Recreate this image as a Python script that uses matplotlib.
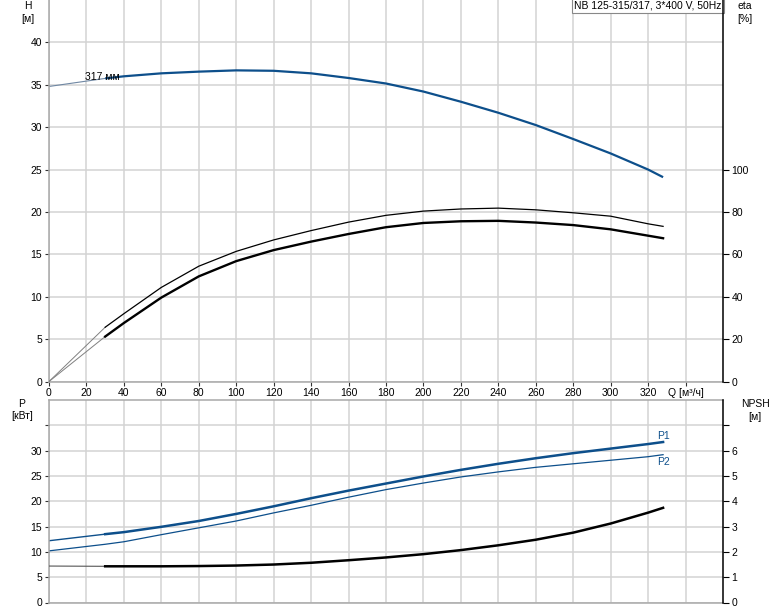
import matplotlib
matplotlib.use("Agg")
import matplotlib.pyplot as plt

plt.rcParams['font.family'] = ['Liberation Sans', 'DejaVu Sans']

# ---- data ----
Q = [0, 30, 40, 60, 80, 100, 120, 140, 160, 180, 200, 220, 240, 260, 280, 300, 320, 328]
H = [34.8, 35.75, 36.0, 36.35, 36.55, 36.7, 36.65, 36.35, 35.8, 35.15, 34.2, 33.0, 31.7, 30.25, 28.6, 26.9, 25.0, 24.1]
eta_pump = [0, 25.6, 32.0, 44.4, 54.4, 61.4, 66.8, 71.2, 75.2, 78.4, 80.4, 81.4, 81.8, 81.0, 79.6, 78.0, 74.4, 73.2]
eta_total = [0, 21.2, 27.6, 39.6, 49.6, 56.8, 62.0, 66.0, 69.6, 72.8, 74.8, 75.6, 75.8, 75.0, 73.8, 71.8, 68.8, 67.6]
P1 = [12.2, 13.5, 13.9, 14.95, 16.1, 17.5, 19.0, 20.6, 22.1, 23.5, 24.9, 26.2, 27.4, 28.5, 29.5, 30.4, 31.3, 31.7]
P2 = [10.2, 11.5, 12.0, 13.4, 14.75, 16.1, 17.7, 19.2, 20.8, 22.3, 23.6, 24.8, 25.8, 26.7, 27.4, 28.1, 28.8, 29.2]
NPSH = [1.44, 1.43, 1.43, 1.43, 1.44, 1.46, 1.50, 1.57, 1.67, 1.78, 1.91, 2.07, 2.26, 2.48, 2.76, 3.12, 3.55, 3.74]

q_ticks = list(range(0, 341, 20))
q_labels = [str(v) for v in range(0, 321, 20)] + ['Q [м³/ч]']
h_ticks = [0, 5, 10, 15, 20, 25, 30, 35, 40]
eta_ticks = [0, 20, 40, 60, 80, 100]
p_ticks = [0, 5, 10, 15, 20, 25, 30, 35]
p_labels = ['0', '5', '10', '15', '20', '25', '30', '']
npsh_ticks = [0, 1, 2, 3, 4, 5, 6, 7]
npsh_labels = ['0', '1', '2', '3', '4', '5', '6', '']
title = 'NB 125-315/317, 3*400 V, 50Hz'
curve_label = '317 мм'

BLUE = '#0d4f8b'
GRID = '#d3d3d3'
SPINE = '#a8a8a8'
FS = 7.5
S = 1  # index where the operating (thick) part starts

W, Hh = 774, 611
fig = plt.figure(figsize=(W / 100, Hh / 100), dpi=100)

left = 49 / W
width = (723 - 49) / W
ax1 = fig.add_axes([left, (Hh - 381.5) / Hh, width, 381.5 / Hh])
ax2 = fig.add_axes([left, (Hh - 602.5) / Hh, width, (602.5 - 400) / Hh])

for ax in (ax1, ax2):
    ax.set_xlim(0, 360)
    ax.set_xticks(q_ticks)
    ax.grid(True, color=GRID, linewidth=1.1)
    ax.set_axisbelow(True)
    for side in ('left', 'bottom', 'top'):
        ax.spines[side].set_color(SPINE)
        ax.spines[side].set_linewidth(1.1)
    ax.spines['right'].set_visible(False)
    ax.tick_params(axis='both', labelsize=FS, length=3, width=0.8, color='#333333', pad=2)

ax1.spines['top'].set_visible(False)
ax1.set_ylim(0, 45)
ax1.set_yticks(h_ticks)
ax1.set_xticklabels(q_labels)

ax2.set_ylim(0, 40)
ax2.set_yticks(p_ticks)
ax2.set_yticklabels(p_labels)
ax2.tick_params(axis='x', labelbottom=False, length=0)

ax1b = ax1.twinx()
ax1b.set_ylim(0, 180)
ax1b.set_yticks(eta_ticks)
ax2b = ax2.twinx()
ax2b.set_ylim(0, 8)
ax2b.set_yticks(npsh_ticks)
ax2b.set_yticklabels(npsh_labels)
for ax in (ax1b, ax2b):
    for side in ('left', 'bottom', 'top'):
        ax.spines[side].set_visible(False)
    ax.spines['right'].set_color('black')
    ax.spines['right'].set_linewidth(1.1)
    ax.tick_params(axis='y', labelsize=FS, length=4, width=0.8, pad=2)

# H curve
ax1.plot(Q[:S + 1], H[:S + 1], color='#6f87a3', lw=0.8)
ax1.plot(Q[S:], H[S:], color=BLUE, lw=1.6, solid_capstyle='butt')
ax1.text(19, 35.95, curve_label, fontsize=FS, ha='left', va='center')

# efficiency curves
ax1b.plot(Q[:S + 1], eta_pump[:S + 1], color='#808080', lw=0.7)
ax1b.plot(Q[:S + 1], eta_total[:S + 1], color='#808080', lw=0.7)
ax1b.plot(Q[S:], eta_pump[S:], color='black', lw=0.9)
ax1b.plot(Q[S:], eta_total[S:], color='black', lw=1.7)

ax1.text(0.998, 0.998, title, transform=ax1.transAxes, ha='right', va='top', fontsize=FS,
         bbox=dict(boxstyle='square,pad=0.25', facecolor='white', edgecolor='#888888', linewidth=0.8),
         zorder=10)

# power curves
ax2.plot(Q[:S + 1], P1[:S + 1], color=BLUE, lw=1.0)
ax2.plot(Q[S:], P1[S:], color=BLUE, lw=1.8)
ax2.plot(Q, P2, color=BLUE, lw=0.9)
ax2.text(Q[-1], 32.9, 'P1', fontsize=FS, color=BLUE, ha='center', va='center')
ax2.text(Q[-1], 27.7, 'P2', fontsize=FS, color=BLUE, ha='center', va='center')

# NPSH
ax2b.plot(Q[:S + 1], NPSH[:S + 1], color='#555555', lw=0.8)
ax2b.plot(Q[S:], NPSH[S:], color='black', lw=1.8)

# axis titles
fig.text(28 / W, 1 - 6 / Hh, 'H', fontsize=FS, ha='center', va='center')
fig.text(28 / W, 1 - 19 / Hh, '[м]', fontsize=FS, ha='center', va='center')
fig.text(745 / W, 1 - 6 / Hh, 'eta', fontsize=FS, ha='center', va='center')
fig.text(745 / W, 1 - 19 / Hh, '[%]', fontsize=FS, ha='center', va='center')
fig.text(22 / W, 1 - 404 / Hh, 'P', fontsize=FS, ha='center', va='center')
fig.text(22 / W, 1 - 416 / Hh, '[кВт]', fontsize=FS, ha='center', va='center')
fig.text(755 / W, 1 - 404 / Hh, 'NPSH', fontsize=FS, ha='center', va='center')
fig.text(755 / W, 1 - 417 / Hh, '[м]', fontsize=FS, ha='center', va='center')

fig.savefig('out.png', dpi=100)
